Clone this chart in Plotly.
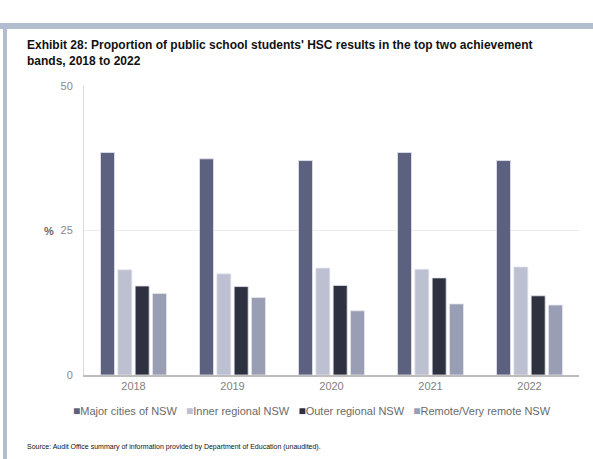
import plotly.graph_objects as go

years = ["2018", "2019", "2020", "2021", "2022"]
series_names = ["Major cities of NSW", "Inner regional NSW", "Outer regional NSW", "Remote/Very remote NSW"]
major = [38.5, 37.4, 37.1, 38.5, 37.1]
inner = [18.2, 17.5, 18.5, 18.3, 18.7]
outer = [15.4, 15.3, 15.5, 16.8, 13.7]
remote = [14.1, 13.4, 11.1, 12.3, 12.1]
colors = ["#5c6180", "#bcc0d0", "#2e3140", "#9a9eb4"]
y_ticks = [0, 25, 50]

FONT = "Liberation Sans, Arial, sans-serif"
PW, PH = 495, 289

fig = go.Figure()
for name, vals, col in zip(series_names, [major, inner, outer, remote], colors):
    fig.add_trace(go.Bar(
        x=years, y=vals, name=name,
        marker=dict(color=col, line=dict(color="#e4e6ee", width=0.8)),
    ))

legend_text = "&nbsp;&nbsp;&nbsp;".join(
    f"<span style='color:{c};font-size:12px'>■</span>{n}" for n, c in zip(series_names, colors)
)

fig.update_layout(
    width=593, height=459,
    margin=dict(l=84, r=14, t=86, b=84),
    paper_bgcolor="white", plot_bgcolor="white",
    font=dict(family=FONT, size=11, color="#7f7f7f"),
    barmode="group", bargap=0.3, bargroupgap=0.19,
    showlegend=False,
    xaxis=dict(showline=True, linecolor="#bdbdbd", linewidth=1.5, ticks="",
               tickfont=dict(size=11, color="#7f7f7f"), showgrid=False, automargin=False),
    yaxis=dict(range=[0, 50], tickvals=y_ticks, showline=True, linecolor="#d9d9d9",
               linewidth=1, gridcolor="#ececec", gridwidth=1, ticks="",
               tickfont=dict(size=11, color="#8a8a8a"), zeroline=False,
               ticklabelstandoff=8, automargin=False),
    shapes=[
        dict(type="rect", xref="paper", yref="paper", x0=-84/PW, x1=1+14/PW,
             y0=1 + 57/PH, y1=1 + 63/PH, fillcolor="#b3bdd0", line=dict(width=0), layer="above"),
        dict(type="rect", xref="paper", yref="paper", x0=-81/PW, x1=-77/PW,
             y0=-84/PH, y1=1 + 63/PH, fillcolor="#b3bdd0", line=dict(width=0), layer="above"),
    ],
    annotations=[
        dict(xref="paper", yref="paper", x=-59/PW, y=1 + 33/PH, xanchor="left", yanchor="middle",
             align="left", showarrow=False,
             text="<b>Exhibit 28: Proportion of public school students' HSC results in the top two achievement<br>bands, 2018 to 2022</b>",
             font=dict(family=FONT, size=12, color="#111111")),
        dict(xref="paper", yref="y", x=-35/PW, y=25, xanchor="center", yanchor="middle",
             showarrow=False, text="<b>%</b>", font=dict(family=FONT, size=11, color="#666666")),
        dict(xref="paper", yref="paper", x=(312-84)/PW, y=-36/PH, xanchor="center", yanchor="middle",
             showarrow=False, text=legend_text, font=dict(family=FONT, size=11, color="#6a6a6a")),
        dict(xref="paper", yref="paper", x=-59/PW, y=-72/PH, xanchor="left", yanchor="middle",
             showarrow=False,
             text="Source: Audit Office summary of information provided by Department of Education (unaudited).",
             font=dict(family=FONT, size=7, color="#111111")),
    ],
)

fig.write_html("out.html", post_script="document.body.style.margin='0';",
               config={"displayModeBar": False})
